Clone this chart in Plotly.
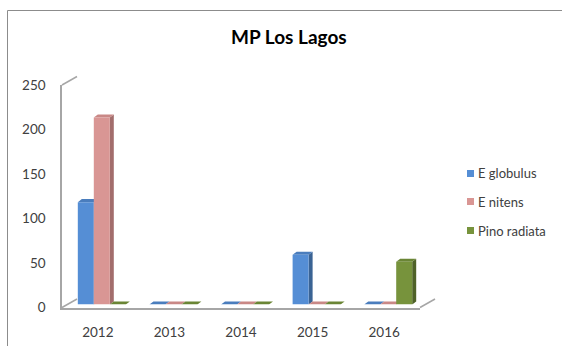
import plotly.graph_objects as go

# ---- data ----
years = ["2012", "2013", "2014", "2015", "2016"]
e_globulus = [115, 0, 0, 56, 0]
e_nitens = [210, 0, 0, 0, 0]
pino_radiata = [0, 0, 0, 0, 48]
y_ticks = [0, 50, 100, 150, 200, 250]

series_names = ["E globulus", "E nitens", "Pino radiata"]
series_values = [e_globulus, e_nitens, pino_radiata]
# (front, side, top) shades for each series
series_colors = [
    ("#558ED5", "#3A6394", "#4A7DBD"),
    ("#D99694", "#A26D6C", "#C98886"),
    ("#77933C", "#4F6228", "#6A8535"),
]

W, H = 562, 346
FONT = "Lato"
GRID = "#A6A6A6"


def px(x):
    return x / W


def py(y):
    return 1 - y / H


fig = go.Figure()

# bar geometry in category units
bargap = 0.33
bw = (1 - bargap) / 3
depth_dx = 0.056   # side-face depth along x (category units)
depth_dy = 3.4     # side-face depth along y (value units)

for j, (name, vals) in enumerate(zip(series_names, series_values)):
    front, side, top = series_colors[j]
    fig.add_trace(go.Bar(
        x=list(range(len(years))), y=vals, name=name,
        marker=dict(color=front, line=dict(width=0)),
        xaxis="x2", yaxis="y2", showlegend=False,
        hovertemplate=name + " %{customdata}: %{y}<extra></extra>",
        customdata=years,
    ))
    # 3D side and top faces of each column
    for i, v in enumerate(vals):
        left = i - (1 - bargap) / 2 + j * bw
        right = left + bw
        if v > 0:
            fig.add_shape(
                type="path", xref="x2", yref="y2", layer="between",
                path=(f"M{right},0 L{right + depth_dx},{depth_dy} "
                      f"L{right + depth_dx},{v + depth_dy} L{right},{v} Z"),
                fillcolor=side, line=dict(width=0),
            )
        fig.add_shape(
            type="path", xref="x2", yref="y2", layer="between",
            path=(f"M{left},{v} L{right},{v} L{right + depth_dx},{v + depth_dy} "
                  f"L{left + depth_dx},{v + depth_dy} Z"),
            fillcolor=top, line=dict(width=0),
        )

# dummy trace to activate the front-plane axes
fig.add_trace(go.Scatter(x=[None], y=[None], xaxis="x3", yaxis="y3",
                         showlegend=False, hoverinfo="skip"))

xr = [-0.5, len(years) - 0.5]
fig.update_layout(
    width=W, height=H, autosize=False,
    margin=dict(l=0, r=0, t=0, b=0, pad=0, autoexpand=False),
    paper_bgcolor="white", plot_bgcolor="rgba(0,0,0,0)",
    barmode="group", bargap=bargap, bargroupgap=0,
    showlegend=False,
    font=dict(family=FONT, color="#404040", size=13),
    # back wall: gridlines only
    xaxis=dict(domain=[px(77), px(435)], range=xr, visible=False,
               showgrid=False, anchor="y", automargin=False),
    yaxis=dict(domain=[py(299), py(76.5)], range=[0, 250], tickvals=y_ticks,
               showgrid=True, gridcolor=GRID, gridwidth=1.5, showticklabels=False,
               zeroline=False, showline=False, ticks="", anchor="x",
               automargin=False),
    # columns plane
    xaxis2=dict(domain=[px(66), px(424)], range=xr, visible=False, anchor="y2",
                automargin=False),
    yaxis2=dict(domain=[py(304.5), py(82)], range=[0, 250], visible=False,
                anchor="x2", automargin=False),
    # front plane: axis lines and tick labels
    xaxis3=dict(domain=[px(62), px(420)], range=xr, anchor="y3",
                tickvals=list(range(len(years))), ticktext=years,
                showgrid=False, zeroline=False, showline=True,
                linecolor=GRID, linewidth=1.5, ticks="",
                tickfont=dict(size=13.5, color="#404040"),
                ticklabelstandoff=12, automargin=False),
    yaxis3=dict(domain=[py(307.5), py(85)], range=[0, 250], anchor="x3",
                tickvals=y_ticks, showgrid=False, zeroline=False,
                showline=True, linecolor=GRID, linewidth=1.5, ticks="",
                tickfont=dict(size=13.5, color="#404040"),
                ticklabelstandoff=12, automargin=False),
)

# side wall and floor edges
edges = [
    ((62, 85), (77, 76.5)),
    ((62, 307.5), (77, 299)),
    ((420, 307.5), (435, 299)),
]
for (x0, y0), (x1, y1) in edges:
    fig.add_shape(type="line", xref="paper", yref="paper",
                  x0=px(x0), y0=py(y0), x1=px(x1), y1=py(y1),
                  line=dict(color=GRID, width=1.5))

# chart frame
fig.add_shape(type="path", xref="paper", yref="paper",
              path=f"M{px(7.5)},{py(346)} L{px(7.5)},{py(10.5)} L{px(562)},{py(10.5)}",
              line=dict(color="#8C8C8C", width=1))

# title
fig.add_annotation(text="<b>MP Los Lagos</b>", xref="paper", yref="paper",
                   x=px(289), y=py(37), showarrow=False,
                   font=dict(size=19, color="#000000", family=FONT),
                   xanchor="center", yanchor="middle")

# legend
legend_y = [173.5, 201.5, 230.5]
for name, (front, _, _), ly in zip(series_names, series_colors, legend_y):
    fig.add_shape(type="rect", xref="paper", yref="paper",
                  x0=px(467), x1=px(474), y0=py(ly - 3.5), y1=py(ly + 3.5),
                  fillcolor=front, line=dict(width=0))
    fig.add_annotation(text=name, xref="paper", yref="paper",
                       x=px(476), y=py(ly), showarrow=False,
                       xanchor="left", yanchor="middle",
                       font=dict(size=13, color="#404040", family=FONT))

fig.write_html("out.html")
